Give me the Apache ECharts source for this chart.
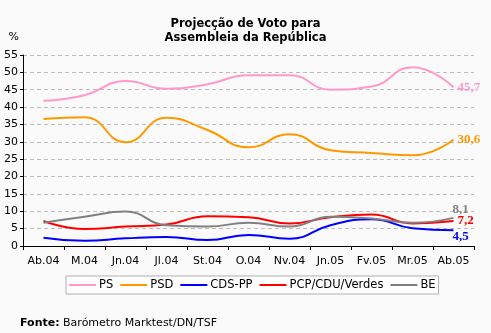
<!DOCTYPE html>
<html><head><meta charset="utf-8">
<script src="https://cdn.jsdelivr.net/npm/echarts@6/dist/echarts.min.js"></script>
<style>html,body{margin:0;padding:0;background:#fafafa}#c{width:491px;height:333px}</style>
</head><body><div id="c"></div>
<script>
var categories = ['Ab.04','M.04','Jn.04','Jl.04','St.04','O.04','Nv.04','Jn.05','Fv.05','Mr.05','Ab.05'];
var ps   = [41.8, 43.4, 47.5, 45.3, 46.6, 49.2, 49.2, 45.0, 45.9, 51.5, 45.7];
var psd  = [36.6, 37.1, 29.9, 36.9, 33.4, 28.4, 32.2, 27.6, 26.8, 26.1, 30.6];
var cds  = [2.4, 1.5, 2.2, 2.6, 1.7, 3.2, 2.1, 6.0, 7.7, 5.1, 4.5];
var pcp  = [7.2, 4.9, 5.6, 6.2, 8.6, 8.3, 6.5, 8.3, 9.1, 6.5, 7.2];
var be   = [6.7, 8.4, 9.9, 6.0, 5.6, 6.7, 5.6, 8.4, 7.9, 6.7, 8.1];
var yTicks = [0,5,10,15,20,25,30,35,40,45,50,55];

var FONT = 'DejaVu Sans';
function mk(name, data, color, off) {
  return {
    name: name, type: 'line', smooth: true, showSymbol: false, symbol: 'none',
    data: data,
    endLabel: {
      show: true, distance: 4, offset: off,
      formatter: function (p) { return String(p.value).replace('.', ','); },
      color: color, fontFamily: 'Liberation Serif', fontWeight: 'bold', fontSize: 13
    },
    lineStyle: { color: color, width: 2 }, itemStyle: { color: color },
    emphasis: { disabled: true }
  };
}

var chart = echarts.init(document.getElementById('c'));
chart.setOption({
  backgroundColor: '#fafafa',
  animation: false,
  textStyle: { fontFamily: FONT },
  title: {
    text: 'Projecção de Voto para\nAssembleia da República',
    left: 'center', top: 12,
    textStyle: { fontFamily: FONT, fontWeight: 'bold', fontSize: 11.5, lineHeight: 14, color: '#000' }
  },
  grid: { left: 23, right: 17, top: 55, bottom: 87 },
  legend: {
    data: ['PS','PSD','CDS-PP','PCP/CDU/Verdes','BE'],
    left: 66, top: 276,
    icon: 'rect', itemWidth: 27, itemHeight: 2, itemGap: 7,
    borderColor: '#b0b0b0', borderWidth: 1, padding: [3, 3, 3, 3],
    backgroundColor: '#fff',
    textStyle: { fontFamily: FONT, fontSize: 11.5, color: '#000', padding: [0, 0, 0, -2] }
  },
  xAxis: {
    type: 'category', data: categories, boundaryGap: true,
    axisLine: { lineStyle: { color: '#000', width: 1 } },
    axisTick: { show: true, length: 4, lineStyle: { color: '#000' } },
    axisLabel: { color: '#000', fontFamily: FONT, fontSize: 11, margin: 10, interval: 0 },
    splitLine: { show: false }
  },
  yAxis: {
    type: 'value', min: 0, max: 55, interval: 5,
    name: '%', nameLocation: 'end', nameGap: 12,
    nameTextStyle: { color: '#000', fontFamily: FONT, fontSize: 11, align: 'right', padding: [0, 4, 0, 0] },
    axisLine: { show: true, lineStyle: { color: '#000', width: 1 } },
    axisTick: { show: true, length: 3, lineStyle: { color: '#000' } },
    axisLabel: { color: '#000', fontFamily: FONT, fontSize: 11, margin: 5,
      formatter: function (v) { return yTicks.indexOf(v) >= 0 ? String(v) : ''; } },
    splitLine: { show: true, lineStyle: { color: '#bdbdbd', type: [4, 3], width: 1 } }
  },
  graphic: [{
    type: 'text', left: 20, top: 318,
    style: {
      text: '{b|Fonte:} Barómetro Marktest/DN/TSF',
      rich: { b: { fontWeight: 'bold', fontFamily: FONT, fontSize: 11, fill: '#000' } },
      fontFamily: FONT, fontSize: 11, fill: '#000'
    }
  }],
  series: [
    mk('PS', ps, '#ff99cc', [0, 0]),
    mk('PSD', psd, '#ff9900', [0, 0]),
    mk('CDS-PP', cds, '#0000ff', [-5, 6]),
    mk('PCP/CDU/Verdes', pcp, '#ff0000', [0, 0]),
    mk('BE', be, '#808080', [-5, -8])
  ]
});
</script></body></html>
